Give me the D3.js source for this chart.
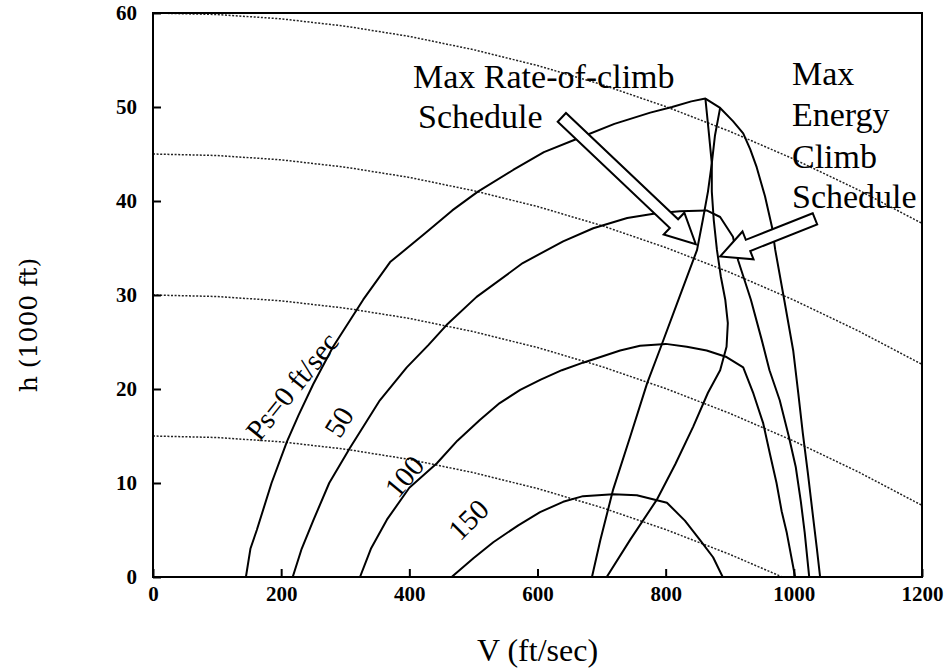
<!DOCTYPE html>
<html><head><meta charset="utf-8">
<script src="https://cdn.jsdelivr.net/npm/d3@7"></script>
<style>body{margin:0;background:#fff}</style></head>
<body><svg id="c" width="950" height="670"></svg>
<script>
// ---- data (V in ft/sec, h in 1000 ft) ----
const vTicks = [0, 200, 400, 600, 800, 1000, 1200];
const hTicks = [0, 10, 20, 30, 40, 50, 60];

// Ps contours (solid)
const ps0 = [[145,0],[152,3],[162,5],[185,10],[209,14.4],[227,17.2],[250,20.5],[281,24.5],[328,29.5],[370,33.5],[427,36.7],[467,39],[507,41],[562,43.3],[610,45.2],[661,46.6],[720,48.2],[776,49.4],[810,50],[840,50.6],[862,50.9],[885,49.9],[905,48.5],[921,47.2],[932,45.5],[942,43.6],[955,40.5],[966,37.2],[971,34.8],[985,29.5],[999,24.1],[1007,19.5],[1014,15.3],[1022,11],[1030,6.4],[1036,3],[1041,0]];
const ps50 = [[218,0],[232,3],[250,6],[275,10],[307,13.7],[354,18.8],[396,22.3],[430,24.7],[458,26.8],[505,29.8],[577,33.4],[640,35.7],[687,37.1],[740,38.2],[786,38.7],[822,38.9],[864,39.0],[885,38.3],[905,36.2],[913,33.7],[933,29.5],[950,25.2],[962,22],[978,18.8],[992,15],[1003,11.7],[1011,8],[1017,4.7],[1024,0]];
const ps100 = [[323,0],[340,3],[365,6.1],[400,9.5],[443,12.1],[475,14.5],[510,16.7],[541,18.5],[573,19.9],[605,21],[638,22],[671,22.8],[729,24.1],[760,24.6],[800,24.8],[833,24.5],[864,24.1],[895,23.4],[921,22.3],[937,19.5],[952,16.4],[963,13],[973,10],[981,7],[989,4.7],[1002,0]];
const ps150 = [[466,0],[500,2],[531,3.7],[570,5.5],[604,6.9],[640,8],[671,8.6],[718,8.8],[755,8.7],[802,7.9],[830,6],[854,3.9],[874,2.1],[889,0]];

// climb schedules (solid)
const maxRateClimb = [[685,0],[698,3.9],[718,9.3],[745,15],[771,20.6],[791,24.2],[820,29.5],[849,34.8],[858,38],[866,41],[872,44],[867,47.5],[862,50.9]];
const maxEnergyClimb = [[708,0],[745,4],[786,8.2],[815,12],[843,16],[866,19.6],[885,22],[895,24.5],[897,27],[893,29.5],[886,32],[880,34.8],[875,38],[872,41],[872,44],[877,47],[885,49.9]];

// constant energy-height lines (dotted)
const e15 = [[0,15],[100,14.84],[200,14.38],[300,13.6],[400,12.51],[500,11.1],[600,9.41],[700,7.39],[800,5.05],[900,2.41],[982,0]];
const e30 = [[0,30],[100,29.84],[200,29.38],[300,28.6],[400,27.51],[500,26.1],[600,24.41],[700,22.39],[800,20.05],[900,17.41],[1000,14.46],[1100,11.2],[1200,7.62]];
const e45 = [[0,45],[100,44.84],[200,44.38],[300,43.6],[400,42.51],[500,41.1],[600,39.41],[700,37.39],[800,35.05],[900,32.41],[1000,29.46],[1100,26.2],[1200,22.62]];
const e60 = [[0,60],[100,59.84],[200,59.38],[300,58.6],[400,57.51],[500,56.1],[600,54.41],[700,52.39],[800,50.05],[900,47.41],[1000,44.46],[1100,41.2],[1200,37.62]];

// contour labels: [text, V, h, angle]
const contourLabels = [["Ps=0 ft/sec",217,20.3,-51],["50",290,16.5,-58],["100",392,10.7,-50],["150",492,6.1,-45]];

// annotation arrows: [tailV, tailH, tipV, tipH]
const arrows = [[638,48.9,847,35.4],[1033,38.1,885,34.1]];

// ---- drawing ----
const svg = d3.select("#c");
const L = 153, R = 922, T = 13, B = 577;
const x = d3.scaleLinear().domain([0,1200]).range([L,R]);
const y = d3.scaleLinear().domain([0,60]).range([B,T]);
const line = d3.line().x(d => x(d[0])).y(d => y(d[1]));
const serif = "'Liberation Serif','Times New Roman',serif";

svg.append("clipPath").attr("id","pa").append("rect")
  .attr("x",L).attr("y",T).attr("width",R-L).attr("height",B-T);
const g = svg.append("g").attr("clip-path","url(#pa)");

[e15,e30,e45,e60].forEach(d => g.append("path").attr("d",line(d))
  .attr("fill","none").attr("stroke","#222").attr("stroke-width",1.5)
  .attr("stroke-dasharray","2,1.6"));

[ps0,ps50,ps100,ps150,maxRateClimb,maxEnergyClimb].forEach(d => g.append("path").attr("d",line(d))
  .attr("fill","none").attr("stroke","#000").attr("stroke-width",2).attr("stroke-linejoin","round"));

// axes
const fmt = d3.format("d");
const xAxis = d3.axisBottom(x).tickValues(vTicks).tickFormat(fmt).tickSizeInner(-8).tickSizeOuter(0).tickPadding(8);
const yAxis = d3.axisLeft(y).tickValues(hTicks).tickFormat(fmt).tickSizeInner(-8).tickSizeOuter(0).tickPadding(16);
const gx = svg.append("g").attr("transform",`translate(0,${B})`).call(xAxis);
const gy = svg.append("g").attr("transform",`translate(${L},0)`).call(yAxis);
[gx,gy].forEach(a => {
  a.select(".domain").remove();
  a.selectAll(".tick line").attr("stroke","#000").attr("stroke-width",2);
  a.selectAll(".tick text").attr("font-family",serif).attr("font-weight","bold")
   .attr("font-size",21).attr("fill","#000");
});
gx.selectAll(".tick text").attr("dy","0.75em");

svg.append("rect").attr("x",L).attr("y",T).attr("width",R-L).attr("height",B-T)
  .attr("fill","none").attr("stroke","#000").attr("stroke-width",2);

// axis titles
svg.append("text").attr("x",(L+R)/2).attr("y",661).attr("text-anchor","middle")
  .attr("font-family",serif).attr("font-size",32).text("V (ft/sec)");
svg.append("text").attr("transform","translate(37,325) rotate(-90)").attr("text-anchor","middle")
  .attr("font-family","'DejaVu Serif',serif").attr("font-size",25).text("h (1000 ft)");

// contour labels
contourLabels.forEach(([t,v,h,a]) => svg.append("text")
  .attr("transform",`translate(${x(v)},${y(h)}) rotate(${a})`)
  .attr("text-anchor","middle").attr("dominant-baseline","central")
  .attr("font-family",serif).attr("font-size",29).text(t));

// annotation text (pixel positions)
const annoText = [["Max Rate-of-climb",413,88],["Schedule",418,128],["Max",792,85],["Energy",792,126],["Climb",792,168],["Schedule",792,208]];
annoText.forEach(([t,px,py]) => svg.append("text").attr("x",px).attr("y",py)
  .attr("font-family",serif).attr("font-size",34).text(t));

// hollow block arrows
arrows.forEach(([tv,th,pv,ph]) => {
  const tx = x(tv), ty = y(th), px = x(pv), py = y(ph);
  const dx = px-tx, dy = py-ty, len = Math.hypot(dx,dy);
  const ux = dx/len, uy = dy/len, nx = -uy, ny = ux;
  const w = 6, hw = 15, hl = 30;
  const bx = px-ux*hl, by = py-uy*hl;
  const pts = [[tx+nx*w,ty+ny*w],[bx+nx*w,by+ny*w],[bx+nx*hw,by+ny*hw],[px,py],
               [bx-nx*hw,by-ny*hw],[bx-nx*w,by-ny*w],[tx-nx*w,ty-ny*w]];
  svg.append("polygon").attr("points",pts.map(p=>p.join(",")).join(" "))
    .attr("fill","#fff").attr("stroke","#000").attr("stroke-width",2).attr("stroke-linejoin","miter");
});
</script>
</body></html>
